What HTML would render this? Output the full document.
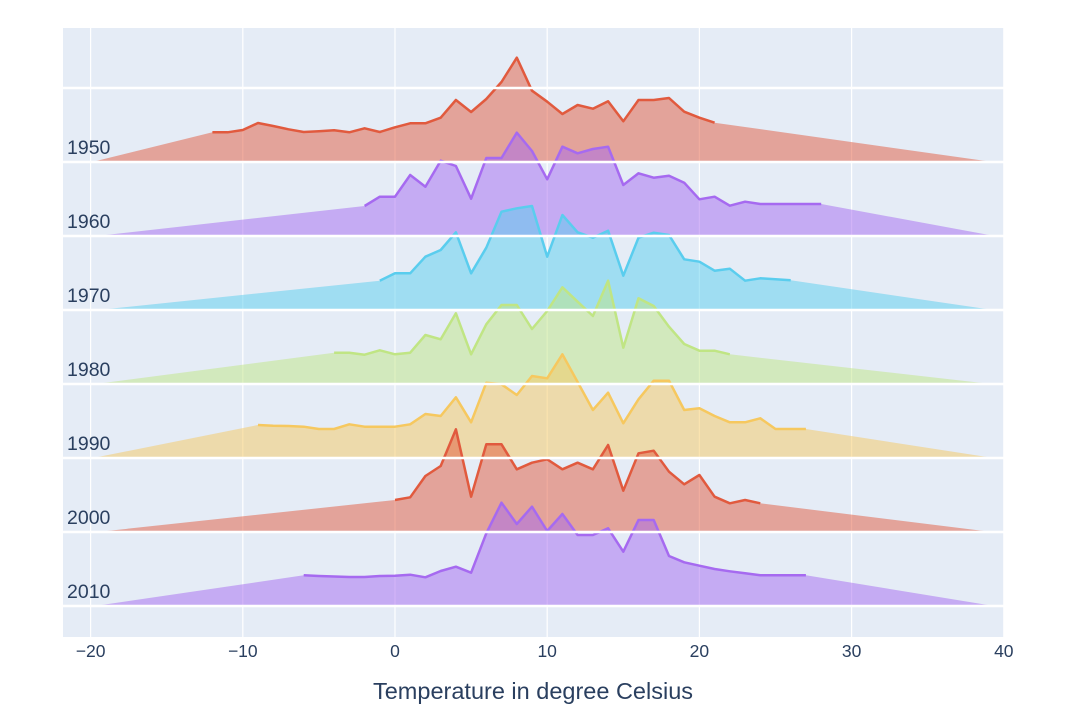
<!DOCTYPE html>
<html><head><meta charset="utf-8"><style>
html,body{margin:0;padding:0;background:#fff;}
svg{display:block;font-family:"Liberation Sans",Arial,sans-serif;}
</style></head><body>
<svg id="s" width="1080" height="723" viewBox="0 0 1080 723" xmlns="http://www.w3.org/2000/svg">
<rect x="63" y="28" width="941" height="609" fill="#E5ECF6"/>
<g id="grid" stroke="#fff"></g>
<g id="series"></g>
<g id="hgrid" stroke="#fff"></g>
<g fill="#2a3f5f" font-size="19.5">
<text x="67" y="154">1950</text>
<text x="67" y="228">1960</text>
<text x="67" y="302">1970</text>
<text x="67" y="376">1980</text>
<text x="67" y="450">1990</text>
<text x="67" y="524">2000</text>
<text x="67" y="598">2010</text>
</g>
<g fill="#2a3f5f" font-size="17.5" text-anchor="middle">
<text x="90.6" y="657">−20</text>
<text x="242.8" y="657">−10</text>
<text x="395" y="657">0</text>
<text x="547.2" y="657">10</text>
<text x="699.4" y="657">20</text>
<text x="851.6" y="657">30</text>
<text x="1003.8" y="657">40</text>
</g>
<text x="533" y="699" fill="#2a3f5f" font-size="23.5" text-anchor="middle">Temperature in degree Celsius</text>
</svg>
<script>
var X=function(t){return 395+15.22*t;};
var g=document.getElementById('grid'),h='';
for(var t=-20;t<=40;t+=10){h+='<line x1="'+X(t)+'" y1="28" x2="'+X(t)+'" y2="637" stroke-width="1.2"/>';}
g.innerHTML=h;
var hh='';
for(var y=88;y<=606;y+=74){hh+='<line x1="63" y1="'+y+'" x2="1004" y2="'+y+'" stroke-width="2.5"/>';}
document.getElementById('hgrid').innerHTML=hh;
var S=[
{b:162,c:'#E15A3E',s:-12,v:[277,277,270,249,258,268,276,274,271,277,265,276,262,250,250,233,180,216,177,126,53,152,185,222,195,206,184,244,180,180,174,215,233,248].map(function(a){return a/3+40;})},
{b:236,c:'#A66AF0',s:-2,v:[206,196.7,196.7,175,186.7,160.7,166,198.7,158,158,132.7,151,179.3,146.7,153.3,149,146.7,185,173.3,177.7,175.7,182.7,199.3,196.7,205.7,201.7,204,204,204,204,204]},
{b:310,c:'#5ACDEE',s:-1,v:[280.7,273.3,273.3,256.7,250,232.3,273.3,247.7,211.7,208.3,206,256.7,215,232.3,237.7,230.7,275.7,237.7,232.7,235,259.3,261.7,270.7,268.7,280.7,278.3,279.3,280.3]},
{b:384,c:'#C0E584',s:-4,v:[352.7,352.7,354.7,350.3,354.3,352.7,335,339.3,313.3,354.3,324.3,305,305,329,311,287.3,301.7,316,280.7,347.7,298.3,306,326.7,344,350.7,350.7,354.3]},
{b:458,c:'#F6C85F',s:-9,v:[425,425.7,426,426.7,429,429,424.3,426.7,426.7,426.7,424.3,414,416,397.3,422.3,382.7,384.3,395,376,378.3,354.3,382,410,392.7,423.3,399.3,380.7,380.7,410,408.3,416,422.3,422.3,418.3,429,429,429]},
{b:532,c:'#E15A3E',s:0,v:[500,497.3,476,466,429.3,496.7,444.3,444.3,469.3,462.7,459.3,469.3,462.7,469.3,445,490.7,453.3,450.7,471.7,484.3,475,496.7,503.3,500,503.3]},
{b:606,c:'#A66AF0',s:-6,v:[575.3,576,576.5,577,577,576,575.7,574.7,577.3,571,566.7,572.7,533.3,502.7,524,506.7,531,514,535,535,528.3,551.7,520,520,556,562.3,565.7,569,571.3,573.3,575.3,575.3,575.3,575.3]}
];
var out='';
S.forEach(function(s){
 var pts=s.v.map(function(y,i){return X(s.s+i).toFixed(1)+','+y.toFixed(1);});
 out+='<polygon points="88,'+(s.b+1)+' '+pts.join(' ')+' 1000,'+(s.b+1)+'" fill="'+s.c+'" fill-opacity="0.5"/>';
 out+='<polyline points="'+pts.join(' ')+'" fill="none" stroke="'+s.c+'" stroke-width="2.5" stroke-linejoin="round"/>';
});
document.getElementById('series').innerHTML=out;
</script>
</body></html>
